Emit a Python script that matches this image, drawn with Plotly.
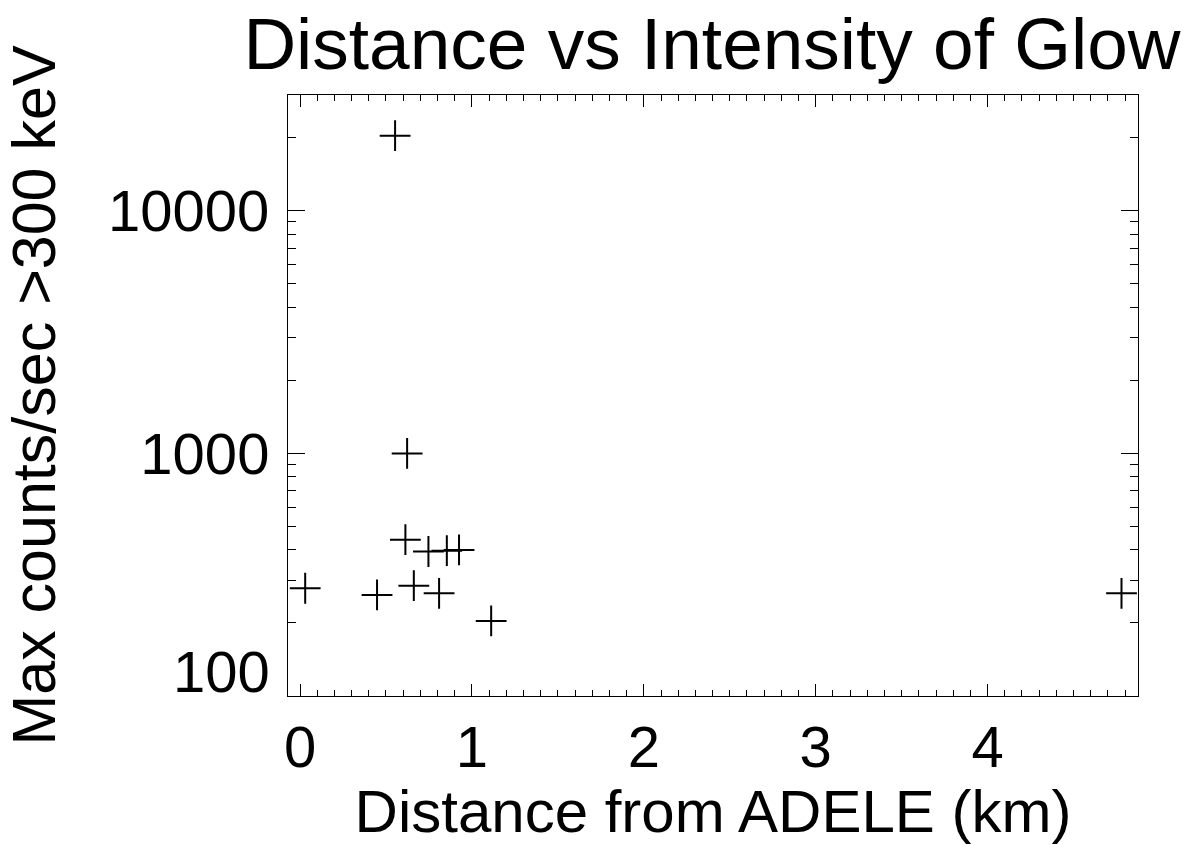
import plotly.graph_objects as go

# Data
distance_km = [0.03, 0.448, 0.553, 0.613, 0.623, 0.662, 0.747, 0.809, 0.854, 0.925, 1.112, 4.779]
max_counts = [278, 261, 20400, 441, 1000, 285, 394, 265, 397, 400, 204, 265]

title_text = "Distance vs Intensity of Glow"
x_title = "Distance from ADELE (km)"
y_title = "Max counts/sec >300 keV"
x_tickvals = [0, 1, 2, 3, 4]
y_tickvals = [100, 1000, 10000]
y_ticktext = ["", "1000", "10000"]
y_minor_vals = [200, 300, 400, 500, 600, 700, 800, 900,
                2000, 3000, 4000, 5000, 6000, 7000, 8000, 9000,
                20000, 30000]

FONT = "Liberation Sans, Arial, Helvetica, sans-serif"

fig = go.Figure()
fig.add_trace(go.Scatter(
    x=distance_km, y=max_counts, mode="markers",
    marker=dict(symbol="cross-thin", size=22, line=dict(color="black", width=2), color="black"),
    showlegend=False,
))

fig.update_layout(
    width=1196, height=845,
    margin=dict(l=288, r=58, t=95, b=149),
    paper_bgcolor="white", plot_bgcolor="white",
    font=dict(family=FONT, color="black"),
    title=dict(text=title_text, font=dict(size=73, family=FONT, color="black"),
               x=712 / 1196, xanchor="center",
               yref="container", y=1 - 43 / 845, yanchor="middle"),
)

fig.update_xaxes(
    range=[-0.07, 4.875], showgrid=False, zeroline=False,
    showline=True, linecolor="black", linewidth=1, mirror="ticks",
    ticks="inside", ticklen=12, tickcolor="black", tickwidth=1,
    tickmode="array", tickvals=x_tickvals,
    tickfont=dict(size=58, family=FONT, color="black"),
    ticklabelstandoff=0,
    minor=dict(ticks="inside", ticklen=6, dtick=0.1, tickcolor="black", tickwidth=1, showgrid=False),
    title=dict(text=x_title, font=dict(size=60, family=FONT, color="black"), standoff=6),
)

fig.update_yaxes(
    type="log", range=[2, 4.4771], showgrid=False, zeroline=False,
    showline=True, linecolor="black", linewidth=1, mirror="ticks",
    ticks="inside", ticklen=17, tickcolor="black", tickwidth=1,
    tickmode="array", tickvals=y_tickvals, ticktext=y_ticktext,
    tickfont=dict(size=58, family=FONT, color="black"),
    ticklabelstandoff=6,
    minor=dict(ticks="inside", ticklen=8, tickmode="array", tickvals=y_minor_vals,
               tickcolor="black", tickwidth=1, showgrid=False),
    title=dict(text=y_title, font=dict(size=61, family=FONT, color="black"), standoff=32),
)

fig.add_annotation(
    x=0, xref="paper", y=2, yref="y", text="100", showarrow=False,
    xanchor="right", yanchor="middle", xshift=-16, yshift=25,
    font=dict(size=58, family=FONT, color="black"),
)

fig.write_html("out.html")
